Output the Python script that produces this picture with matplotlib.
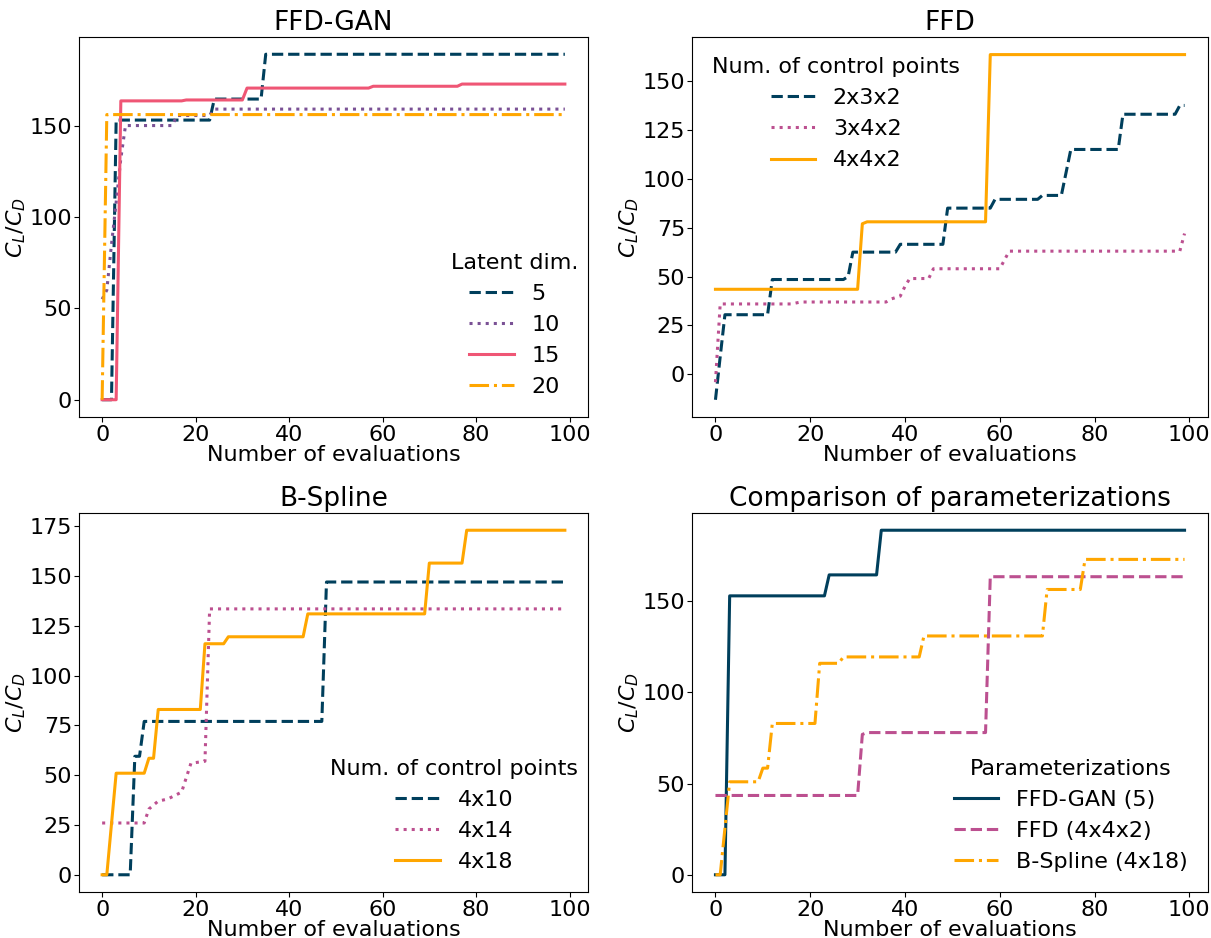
import matplotlib
matplotlib.use("Agg")
import matplotlib.pyplot as plt

# ---------------- data (breakpoints) ----------------
# FFD-GAN, latent dimensions
gan5_x = [0, 2, 3, 23, 24, 34, 35, 99]
gan5_y = [0, 0, 153, 153, 164.5, 164.5, 189, 189]
gan10_x = [0, 1, 2, 3, 4, 5, 15, 16, 23, 24, 99]
gan10_y = [55, 60, 85, 108, 132, 150, 150, 155.5, 155.5, 159, 159]
gan15_x = [0, 3, 4, 17, 18, 30, 31, 57, 58, 76, 77, 99]
gan15_y = [0, 0, 163.5, 163.5, 164, 164, 170.5, 170.5, 171.5, 171.5, 172.7, 172.7]
gan20_x = [0, 1, 99]
gan20_y = [0, 156, 156]
gan_labels = ["5", "10", "15", "20"]

# FFD, number of control points
ffd232_x = [0, 1, 2, 11, 12, 27, 28, 29, 38, 39, 48, 49, 58, 59, 68, 69, 73, 75, 85, 86, 97, 98, 99]
ffd232_y = [-13, 9, 30.5, 30.5, 48.5, 48.5, 50, 62.5, 62.5, 66.5, 66.5, 85, 85, 89.5, 89.5, 91.5,
            91.5, 115, 115, 133, 133, 137.5, 137.5]
ffd342_x = [0, 1, 16, 18, 36, 37, 39, 40, 41, 45, 46, 60, 62, 98, 99]
ffd342_y = [-4, 36, 36, 37, 37, 38.5, 40, 45, 49, 49, 54, 54, 63, 63, 72]
ffd442_x = [0, 30, 31, 32, 57, 58, 99]
ffd442_y = [43.5, 43.5, 77, 78, 78, 163.5, 163.5]
ffd_labels = ["2x3x2", "3x4x2", "4x4x2"]

# B-Spline, number of control points
bs410_x = [0, 6, 7, 8, 9, 47, 48, 99]
bs410_y = [0, 0, 59.5, 59.5, 77, 77, 147, 147]
bs414_x = [0, 9, 10, 12, 14, 17, 19, 22, 23, 99]
bs414_y = [26, 26, 33, 37, 38, 41.5, 56, 57, 133.5, 133.5]
bs418_x = [0, 1, 3, 9, 10, 11, 12, 21, 22, 26, 27, 43, 44, 69, 70, 77, 78, 99]
bs418_y = [0, 0, 51, 51, 58.5, 58.5, 83, 83, 116, 116, 119.5, 119.5, 131, 131, 156.5, 156.5, 173, 173]
bs_labels = ["4x10", "4x14", "4x18"]

cmp_labels = ["FFD-GAN (5)", "FFD (4x4x2)", "B-Spline (4x18)"]
titles = ["FFD-GAN", "FFD", "B-Spline", "Comparison of parameterizations"]
xlabel = "Number of evaluations"
ylabel = r"$C_L/C_D$"

# ---------------- styling ----------------
C_DARK = "#003f5c"
C_PURPLE = "#7a5195"
C_MAGENTA = "#bc5090"
C_PINK = "#ef5675"
C_ORANGE = "#ffa600"
LW = 2.2
FS = 16
FS_TITLE = 19

plt.rcParams["font.family"] = ["DejaVu Sans"]

W, H = 1211, 938
fig = plt.figure(figsize=(W / 100, H / 100), dpi=100)


def ax_at(l, r, t, b):
    return fig.add_axes([l / W, 1 - b / H, (r - l) / W, (b - t) / H])


ax1 = ax_at(79, 588, 37, 417)
ax2 = ax_at(692, 1208, 37, 417)
ax3 = ax_at(79, 588, 513, 892)
ax4 = ax_at(692, 1208, 513, 892)

leg_kw = dict(frameon=False, fontsize=FS, title_fontsize=FS)

# FFD-GAN
ax1.plot(gan5_x, gan5_y, "--", color=C_DARK, lw=LW, label=gan_labels[0])
ax1.plot(gan10_x, gan10_y, ":", color=C_PURPLE, lw=LW, label=gan_labels[1])
ax1.plot(gan15_x, gan15_y, "-", color=C_PINK, lw=LW, label=gan_labels[2])
ax1.plot(gan20_x, gan20_y, "-.", color=C_ORANGE, lw=LW, label=gan_labels[3])
ax1.legend(title="Latent dim.", loc="lower right", bbox_to_anchor=(1.02, 0.0), **leg_kw)

# FFD
ax2.plot(ffd232_x, ffd232_y, "--", color=C_DARK, lw=LW, label=ffd_labels[0])
ax2.plot(ffd342_x, ffd342_y, ":", color=C_MAGENTA, lw=LW, label=ffd_labels[1])
ax2.plot(ffd442_x, ffd442_y, "-", color=C_ORANGE, lw=LW, label=ffd_labels[2])
ax2.legend(title="Num. of control points", loc="upper left", **leg_kw)

# B-Spline
ax3.plot(bs410_x, bs410_y, "--", color=C_DARK, lw=LW, label=bs_labels[0])
ax3.plot(bs414_x, bs414_y, ":", color=C_MAGENTA, lw=LW, label=bs_labels[1])
ax3.plot(bs418_x, bs418_y, "-", color=C_ORANGE, lw=LW, label=bs_labels[2])
ax3.legend(title="Num. of control points", loc="lower right", bbox_to_anchor=(1.02, 0.0), **leg_kw)

# Comparison
ax4.plot(gan5_x, gan5_y, "-", color=C_DARK, lw=LW, label=cmp_labels[0])
ax4.plot(ffd442_x, ffd442_y, "--", color=C_MAGENTA, lw=LW, label=cmp_labels[1])
ax4.plot(bs418_x, bs418_y, "-.", color=C_ORANGE, lw=LW, label=cmp_labels[2])
ax4.legend(title="Parameterizations", loc="lower right", **leg_kw)

for ax, t in zip([ax1, ax2, ax3, ax4], titles):
    ax.set_title(t, fontsize=FS_TITLE, pad=5)
    ax.set_xlabel(xlabel, fontsize=FS, labelpad=0)
    ax.set_ylabel(ylabel, fontsize=FS, labelpad=1)
    ax.set_xlim(-4.95, 103.95)
    ax.set_xticks([0, 20, 40, 60, 80, 100])
    ax.tick_params(axis="x", labelsize=FS, pad=2.5)
    ax.tick_params(axis="y", labelsize=FS, pad=1.5)

ax1.set_ylim(-9.45, 198.45)
ax2.set_ylim(-21.8, 172.5)
ax3.set_ylim(-8.65, 181.65)
ax4.set_ylim(-9.45, 198.45)
ax1.set_yticks([0, 50, 100, 150])
ax2.set_yticks([0, 25, 50, 75, 100, 125, 150])
ax3.set_yticks([0, 25, 50, 75, 100, 125, 150, 175])
ax4.set_yticks([0, 50, 100, 150])

fig.savefig("out.png", dpi=100)
